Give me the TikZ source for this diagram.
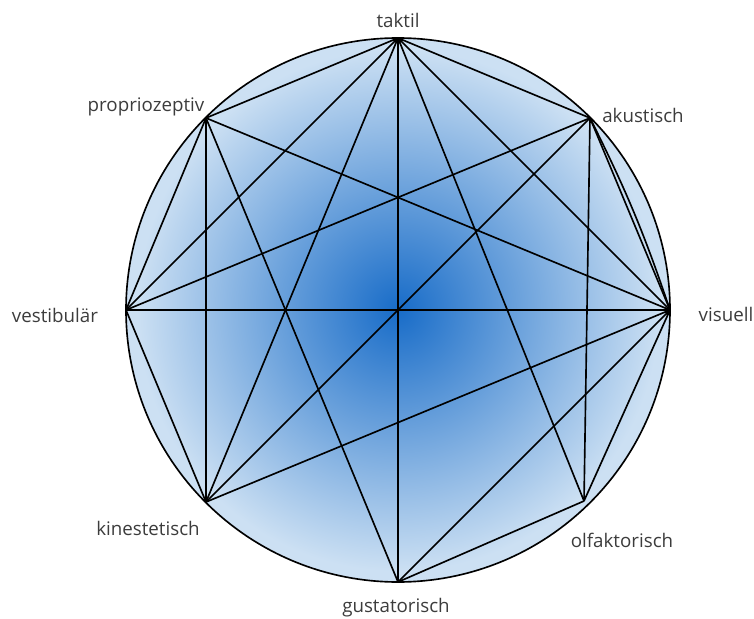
\documentclass[tikz,border=0pt]{standalone}
\usepackage{fontspec}
\setmainfont{Open Sans}
\usetikzlibrary{positioning}
\definecolor{senseblue}{RGB}{24,108,200}
\definecolor{senselight}{RGB}{204,224,243}
\definecolor{labelgray}{RGB}{60,60,60}
\pgfdeclareradialshading{sensefill}{\pgfpoint{0bp}{0bp}}{color(0bp)=(senseblue); color(24bp)=(senselight); color(50bp)=(senselight)}

\begin{document}
\begin{tikzpicture}[
  x=0.03cm, y=-0.03cm,
  link/.style={draw=black, line width=1.4pt},
  sense/.style={font=\fontsize{16}{19}\selectfont, text=labelgray,
    inner sep=0pt, anchor=base}
]
  \useasboundingbox (0,0) rectangle (754,619);

  % the eight senses on the circle
  \coordinate (mid) at (398,310);
  \coordinate (tak) at (398,38);
  \coordinate (aku) at (590,118);
  \coordinate (vis) at (670,310);
  \coordinate (olf) at (584,501);
  \coordinate (gus) at (398,582);
  \coordinate (kin) at (206,502);
  \coordinate (ves) at (126,310);
  \coordinate (pro) at (206,118);

  \shade[shading=sensefill] (mid) circle (272);

  \draw[link] (tak) -- (pro) (tak) -- (ves) (tak) -- (kin) (tak) -- (gus)
    (tak) -- (olf) (tak) -- (vis) (tak) -- (aku);
  \draw[link] (vis) -- (pro) (vis) -- (ves) (vis) -- (kin) (vis) -- (gus)
    (vis) -- (olf) (vis) -- (aku);
  \draw[link] (aku) to[bend left=4] (vis);
  \draw[link] (pro) -- (ves) (pro) -- (kin) (pro) -- (gus);
  \draw[link] (ves) -- (aku) (ves) -- (kin);
  \draw[link] (kin) -- (aku);
  \draw[link] (gus) -- (olf);
  \draw[link] (olf) -- (aku);

  \draw[link] (mid) circle (272);

  \node[sense] (ltak) at (398,28) {taktil};
  \node[sense] (lpro) at (146,112) {propriozeptiv};
  \node[sense] (laku) at (643,123) {akustisch};
  \node[sense] (lves) at (55,322) {vestibulär};
  \node[sense] (lvis) at (726,321) {visuell};
  \node[sense] (lkin) at (148,535) {kinestetisch};
  \node[sense] (lolf) at (622,547) {olfaktorisch};
  \node[sense] (lgus) at (396,612) {gustatorisch};
\end{tikzpicture}
\end{document}
